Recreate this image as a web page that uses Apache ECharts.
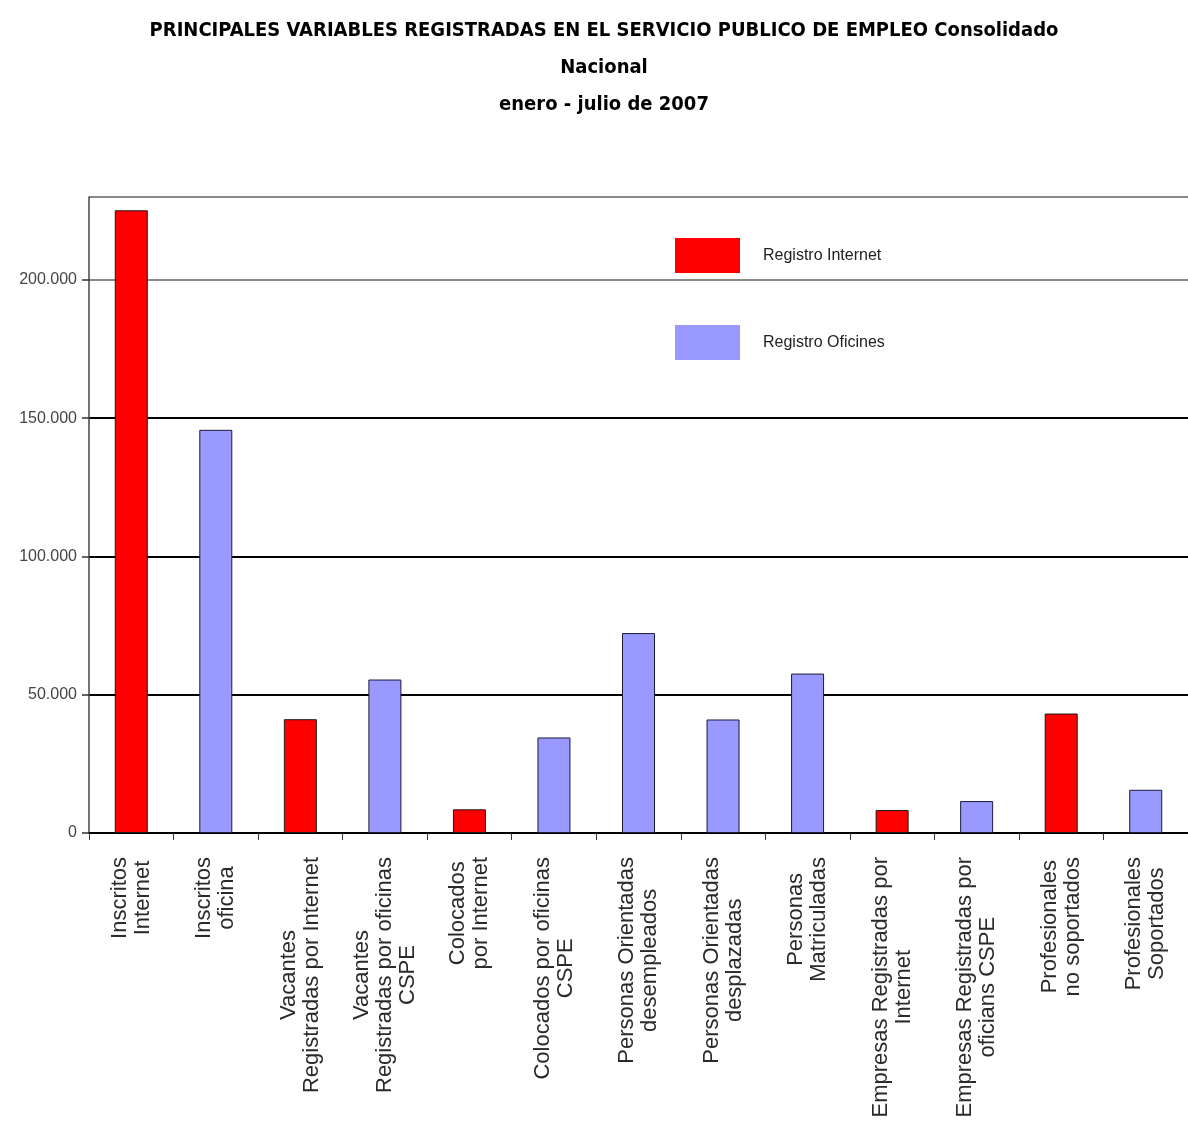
<!DOCTYPE html>
<html>
<head>
<meta charset="utf-8">
<script src="https://cdn.jsdelivr.net/npm/echarts@6/dist/echarts.min.js"></script>
<style>
html,body{margin:0;padding:0;background:#fff;}
#chart{width:1188px;height:1137px;}
</style>
</head>
<body>
<div id="chart"></div>
<script>
const titleLines = [
  'PRINCIPALES VARIABLES REGISTRADAS EN EL SERVICIO PUBLICO DE EMPLEO Consolidado',
  'Nacional',
  'enero - julio de 2007'
];
const categories = [
  'Inscritos\nInternet',
  'Inscritos\noficina',
  'Vacantes\nRegistradas por Internet',
  'Vacantes\nRegistradas por oficinas\nCSPE',
  'Colocados\npor Internet',
  'Colocados por oficinas\nCSPE',
  'Personas Orientadas\ndesempleados',
  'Personas Orientadas\ndesplazadas',
  'Personas\nMatriculadas',
  'Empresas Registradas por\nInternet',
  'Empresas Registradas por\noficians CSPE',
  'Profesionales\nno soportados',
  'Profesionales\nSoportados'
];
const seriesNames = ['Registro Internet', 'Registro Oficines'];
const internetValues = [225200, '-', 41150, '-', 8560, '-', '-', '-', '-', 8300, '-', 43200, '-'];
const oficinasValues = ['-', 145800, '-', 55500, '-', 34550, 72300, 41050, 57650, '-', 11550, '-', 15630];
const yTicks = [0, 50000, 100000, 150000, 200000];

function fmt(v) {
  return String(v).replace(/\B(?=(\d{3})+(?!\d))/g, '.');
}

const chart = echarts.init(document.getElementById('chart'));
chart.setOption({
  backgroundColor: '#ffffff',
  animation: false,
  title: {
    text: titleLines.join('\n'),
    left: 604,
    textAlign: 'center',
    top: 12,
    padding: 0,
    textStyle: {
      fontFamily: 'Liberation Sans Narrow, DejaVu Sans Condensed, Arial, sans-serif',
      fontWeight: 'bold',
      fontSize: 20,
      lineHeight: 37,
      color: '#000'
    }
  },
  legend: {
    orient: 'vertical',
    left: 675,
    top: 238,
    padding: 0,
    itemWidth: 65,
    itemHeight: 35,
    itemGap: 52,
    icon: 'rect',
    itemStyle: { borderWidth: 0 },
    textStyle: {
      fontFamily: 'Liberation Sans, Arial, sans-serif',
      fontSize: 16,
      color: '#222',
      padding: [0, 0, 0, 18]
    },
    data: seriesNames
  },
  grid: {
    left: 89,
    top: 197,
    width: 1104,
    bottom: 304,
    containLabel: false
  },
  xAxis: {
    type: 'category',
    data: categories,
    boundaryGap: true,
    axisLine: { show: true, lineStyle: { color: '#000', width: 2 } },
    axisTick: { show: true, alignWithLabel: false, interval: 0, length: 7, lineStyle: { color: '#333', width: 1 } },
    axisLabel: {
      interval: 0,
      rotate: 90,
      margin: 24,
      formatter: function (v) {
        return v.split('\n').map(function (s) { return '{c|' + s + '}'; }).join('\n');
      },
      rich: {
        c: {
          align: 'center',
          fontFamily: 'Liberation Sans, Arial, sans-serif',
          fontSize: 22,
          lineHeight: 23,
          color: '#2a2a2a'
        }
      }
    }
  },
  yAxis: {
    type: 'value',
    min: 0,
    max: 230000,
    interval: 50000,
    axisLine: { show: true, lineStyle: { color: '#444', width: 1.5 } },
    axisTick: { show: true, length: 7, lineStyle: { color: '#333', width: 1.5 } },
    axisLabel: {
      margin: 12,
      fontFamily: 'Liberation Sans, Arial, sans-serif',
      fontSize: 16,
      color: '#444',
      showMaxLabel: false,
      formatter: function (v) { return yTicks.indexOf(v) >= 0 ? fmt(v) : ''; }
    },
    splitLine: {
      show: true,
      showMaxLine: true,
      lineStyle: { color: ['#000', '#000', '#000', '#000', '#8a8a8a', '#8a8a8a'], width: 2 }
    }
  },
  series: [
    {
      name: seriesNames[0],
      type: 'bar',
      stack: 'all',
      barWidth: 33,
      data: internetValues,
      itemStyle: { color: '#ff0000', borderColor: '#1a1a1a', borderWidth: 1 }
    },
    {
      name: seriesNames[1],
      type: 'bar',
      stack: 'all',
      barWidth: 33,
      data: oficinasValues,
      itemStyle: { color: '#9999ff', borderColor: '#1a1a3a', borderWidth: 1 }
    }
  ]
});
</script>
</body>
</html>
